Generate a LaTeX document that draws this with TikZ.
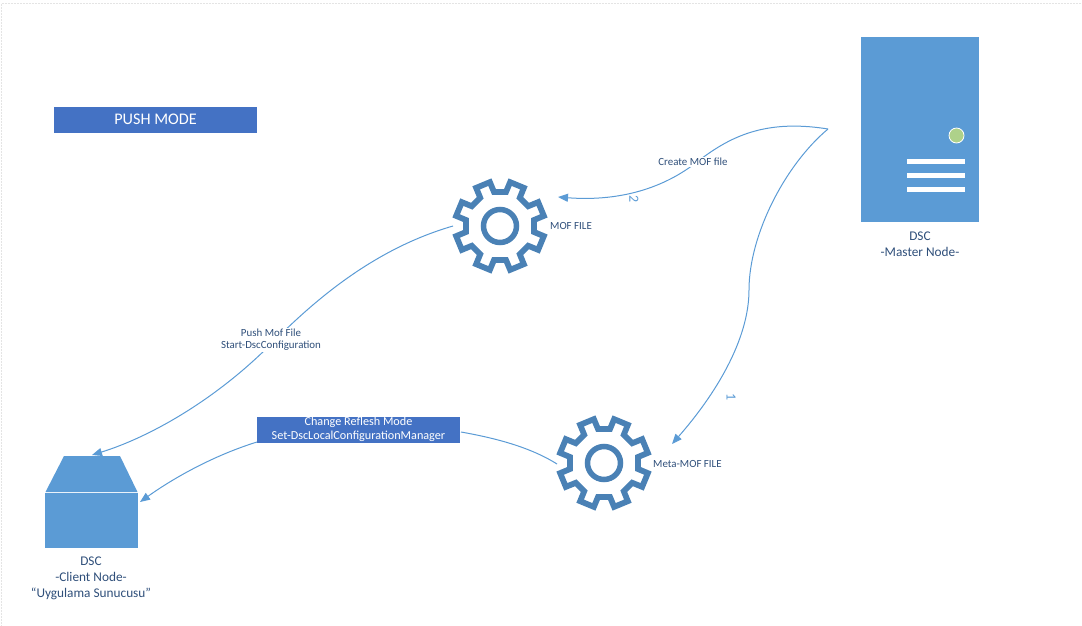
\documentclass[tikz,border=0pt]{standalone}
\usepackage{fontspec}
\setmainfont{Carlito}
\usetikzlibrary{arrows.meta}
\definecolor{blueA}{HTML}{5B9BD5}
\definecolor{blueB}{HTML}{4472C4}
\definecolor{gearblue}{HTML}{4A81B5}
\definecolor{labelblue}{HTML}{2F4F7A}
\definecolor{led}{HTML}{AED18A}
\definecolor{frameg}{HTML}{E4E4E4}
\tikzset{
  conn/.style={draw=blueA,line width=1pt,-{Triangle[length=10pt,width=8pt,fill=blueA]}},
  plain/.style={draw=blueA,line width=1pt},
  lbl/.style={text=labelblue,font=\fontsize{10.9pt}{12pt}\selectfont,align=center,inner sep=1pt},
  biglbl/.style={text=labelblue,font=\fontsize{13.3pt}{16pt}\selectfont,align=center,inner sep=0pt},
  banner/.style={fill=blueB,text=white,align=center,inner sep=0pt},
  num/.style={text=blueA,font=\fontsize{14pt}{14pt}\selectfont,inner sep=0pt},
  shapefill/.style={fill=blueA,draw=none},
  gearline/.style={draw=gearblue,line width=5.8pt,line join=miter,miter limit=3}
}
\newcommand{\geardraw}[1]{%
  \draw[gearline] (#1)+(22.5-12.5:34.5)
    \foreach \a in {22.5,67.5,...,337.5}{
      -- +({\a-12.5}:34.5) -- +({\a-9.5}:45) -- +({\a+9.5}:45) -- +({\a+12.5}:34.5)
    } -- cycle;
  \draw[draw=gearblue,line width=5.5pt] (#1) circle[radius=16.5];
}
\begin{document}
\begin{tikzpicture}[x=1pt,y=-1pt]
\useasboundingbox (0,0) rectangle (1082,625);
\draw[frameg,line width=0.5pt,dash pattern=on 2pt off 1pt] (1.5,3.5) -- (1081.5,3.5);
\draw[frameg,line width=0.5pt,dash pattern=on 2pt off 1pt] (1.5,3.5) -- (1.5,625);

% master server
\node[shapefill,minimum width=118pt,minimum height=185pt,inner sep=0pt,anchor=north west] (master) at (861,37) {};
\node[circle,fill=led,draw=white,line width=0.8pt,minimum size=15pt,inner sep=0pt] (ledn) at (956.5,135.5) {};
\foreach \n/\y in {a/161.5,b/175.5,c/189.5}
  \node[fill=white,minimum width=58pt,minimum height=4.5pt,inner sep=0pt] (bar\n) at (935.5,\y) {};
\node[biglbl] (masterlbl) at (920,244.5) {DSC\\-Master Node-};

% client box
\node[shapefill,minimum width=93pt,minimum height=55pt,inner sep=0pt,anchor=north west] (client) at (45,493) {};
\fill[blueA] (64,456) -- (120,456) -- (137.5,492) -- (45.5,492) -- cycle;
\node[biglbl] (clientlbl) at (91,578.5) {DSC\\-Client Node-\\“Uygulama Sunucusu”};

% banners
\node[banner,minimum width=203pt,minimum height=26pt,font=\fontsize{16.2pt}{18pt}\selectfont] (push) at (155.5,119.5) {PUSH MODE};
\node[banner,minimum width=203pt,minimum height=26pt,font=\fontsize{12.2pt}{14pt}\selectfont] (change) at (358.5,429.5) {Change Reflesh Mode\\Set-DscLocalConfigurationManager};

% gears
\coordinate (gearA) at (500,226);
\coordinate (gearB) at (604,463);
\geardraw{gearA}
\geardraw{gearB}
\node[lbl,anchor=west] (moflbl) at (549,226) {MOF FILE};
\node[lbl,anchor=west] (metalbl) at (652,464) {Meta-MOF FILE};

% connector end points
\coordinate (src) at (828,129);
\coordinate (mofin) at (558,197);
\coordinate (metain) at (672,444);
\coordinate (mofout) at (453,226);
\coordinate (clienttop) at (92,455);
\coordinate (clientside) at (140,502);
\coordinate (metaout) at (557,464);
\coordinate (changein) at (461,432);
\coordinate (changeout) at (257,442);

\draw[conn] (src) .. controls (760,118) and (725,140) .. (693,165)
   .. controls (655,193) and (610,201) .. (mofin);
\node[lbl,fill=white] (createlbl) at (693,162) {Create MOF file};
\draw[conn] (src) .. controls (785,165) and (749,235) .. (749,290)
   .. controls (749,340) and (715,395) .. (metain);
\draw[conn] (mofout) .. controls (370,250) and (310,305) .. (270,345)
   .. controls (215,400) and (150,437) .. (clienttop);
\node[lbl,fill=white] (pushlbl) at (271,340) {Push Mof File\\Start-DscConfiguration};
\draw[plain] (metaout) .. controls (530,447) and (495,438) .. (changein);
\draw[conn] (changeout) .. controls (215,455) and (175,477) .. (clientside);

\node[num,rotate=-90] (n1) at (731,397) {1};
\node[num,rotate=-90] (n2) at (634,199) {2};
\end{tikzpicture}
\end{document}
